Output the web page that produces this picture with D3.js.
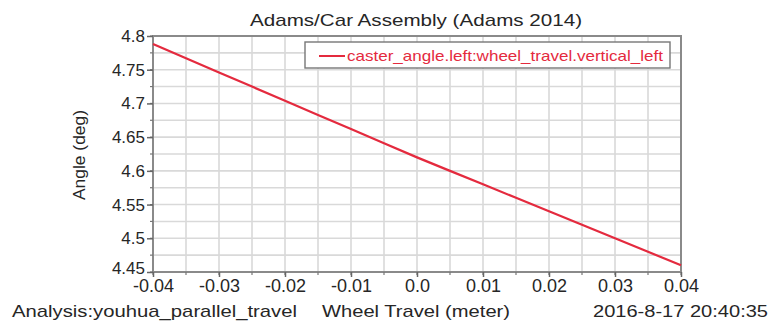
<!DOCTYPE html>
<html lang="en">
  <head>
    <meta charset="UTF-8" />
    <title>Adams/Car Assembly</title>
    <style>
      * {
        margin: 0;
        padding: 0;
      }
      body {
        background-color: #fff;
      }
      text {
        font-family: "Liberation Sans", Arial, sans-serif;
        fill: #262626;
      }
    </style>
  </head>
  <body>
    <script src="https://cdn.jsdelivr.net/npm/d3@7/dist/d3.min.js"></script>
    <script>
      // 数据
      const wheel_travel = [-0.04, -0.035, -0.03, -0.025, -0.02, -0.015, -0.01, -0.005, 0.0, 0.005, 0.01, 0.015, 0.02, 0.025, 0.03, 0.035, 0.04];
      const caster_angle = [4.788, 4.767, 4.746, 4.725, 4.704, 4.683, 4.662, 4.641, 4.62, 4.6, 4.58, 4.56, 4.54, 4.52, 4.5, 4.48, 4.46];
      const x_ticks = [-0.04, -0.03, -0.02, -0.01, 0.0, 0.01, 0.02, 0.03, 0.04];
      const x_tick_labels = ["-0.04", "-0.03", "-0.02", "-0.01", "0.0", "0.01", "0.02", "0.03", "0.04"];
      const y_ticks = [4.45, 4.5, 4.55, 4.6, 4.65, 4.7, 4.75, 4.8];
      const y_tick_labels = ["4.45", "4.5", "4.55", "4.6", "4.65", "4.7", "4.75", "4.8"];

      const plot = { left: 153, right: 681, top: 36, bottom: 272 };
      const red = "#e42a3e";
      const svg = d3.select("body").append("svg").attr("width", 771).attr("height", 325);

      const x = d3.scaleLinear().domain([-0.04, 0.04]).range([plot.left, plot.right]);
      const y = d3.scaleLinear().domain([4.45, 4.8]).range([plot.bottom, plot.top]);

      // 网格
      const x_grid = d3.range(0, 17).map((i) => -0.04 + i * 0.005);
      const y_grid = d3.range(0, 15).map((i) => 4.45 + i * 0.025);
      svg
        .selectAll("line.vgrid")
        .data(x_grid)
        .enter()
        .append("line")
        .attr("x1", (d) => x(d))
        .attr("x2", (d) => x(d))
        .attr("y1", plot.top)
        .attr("y2", plot.bottom)
        .attr("stroke", "#d9d9d9")
        .attr("stroke-width", 1.6);
      svg
        .selectAll("line.hgrid")
        .data(y_grid)
        .enter()
        .append("line")
        .attr("x1", plot.left)
        .attr("x2", plot.right)
        .attr("y1", (d) => y(d))
        .attr("y2", (d) => y(d))
        .attr("stroke", "#d9d9d9")
        .attr("stroke-width", 1.6);

      // 边框
      svg
        .append("rect")
        .attr("x", plot.left)
        .attr("y", plot.top)
        .attr("width", plot.right - plot.left)
        .attr("height", plot.bottom - plot.top)
        .attr("fill", "none")
        .attr("stroke", "#8a8a8a")
        .attr("stroke-width", 2);

      // 小刻度
      svg
        .selectAll("line.ytick_minor")
        .data(y_grid)
        .enter()
        .append("line")
        .attr("x1", plot.left - 3)
        .attr("x2", plot.left)
        .attr("y1", (d) => y(d))
        .attr("y2", (d) => y(d))
        .attr("stroke", "#777")
        .attr("stroke-width", 1.2);
      svg
        .selectAll("line.xtick_minor")
        .data(x_grid)
        .enter()
        .append("line")
        .attr("x1", (d) => x(d))
        .attr("x2", (d) => x(d))
        .attr("y1", plot.bottom)
        .attr("y2", plot.bottom + 3)
        .attr("stroke", "#777")
        .attr("stroke-width", 1.2);

      // 坐标轴
      const y_axis = d3
        .axisLeft(y)
        .tickValues(y_ticks)
        .tickFormat((d, i) => y_tick_labels[i])
        .tickSize(6)
        .tickPadding(2);
      const gy = svg.append("g").attr("transform", `translate(${plot.left},0)`).call(y_axis);
      const x_axis = d3
        .axisBottom(x)
        .tickValues(x_ticks)
        .tickFormat((d, i) => x_tick_labels[i])
        .tickSize(5)
        .tickPadding(2);
      const gx = svg.append("g").attr("transform", `translate(0,${plot.bottom})`).call(x_axis);
      [gx, gy].forEach((g) => {
        g.select(".domain").remove();
        g.selectAll(".tick line").attr("stroke", "#666").attr("stroke-width", 1.5);
        g.selectAll(".tick text").attr("fill", "#262626").attr("font-family", "Liberation Sans, Arial, sans-serif");
      });
      gy.selectAll(".tick text").attr("font-size", 17);
      // 4.45 略微上移
      gy.selectAll(".tick text")
        .filter((d) => d === 4.45)
        .attr("dy", "0.1em");
      gx.selectAll(".tick text").attr("font-size", 18);

      // 曲线
      const line = d3
        .line()
        .x((d, i) => x(wheel_travel[i]))
        .y((d) => y(d));
      svg
        .append("path")
        .datum(caster_angle)
        .attr("d", line)
        .attr("fill", "none")
        .attr("stroke", red)
        .attr("stroke-width", 2.2);

      // 图例
      svg
        .append("rect")
        .attr("x", 305)
        .attr("y", 42)
        .attr("width", 365)
        .attr("height", 26)
        .attr("fill", "#fff")
        .attr("stroke", "#777")
        .attr("stroke-width", 1.4);
      svg
        .append("line")
        .attr("x1", 319)
        .attr("x2", 345)
        .attr("y1", 56)
        .attr("y2", 56)
        .attr("stroke", red)
        .attr("stroke-width", 2);
      svg
        .append("text")
        .text("caster_angle.left:wheel_travel.vertical_left")
        .attr("x", 347)
        .attr("y", 61)
        .attr("font-size", 15)
        .attr("textLength", 316)
        .attr("lengthAdjust", "spacingAndGlyphs")
        .style("fill", red);

      // 标题与标签
      svg
        .append("text")
        .text("Adams/Car Assembly (Adams 2014)")
        .attr("x", 250)
        .attr("y", 26)
        .attr("font-size", 17)
        .attr("textLength", 332)
        .attr("lengthAdjust", "spacingAndGlyphs");
      svg
        .append("text")
        .text("Angle (deg)")
        .attr("transform", "translate(85,155) rotate(-90)")
        .attr("x", -45)
        .attr("font-size", 16)
        .attr("textLength", 90)
        .attr("lengthAdjust", "spacingAndGlyphs");
      svg
        .append("text")
        .text("Analysis:youhua_parallel_travel")
        .attr("x", 12)
        .attr("y", 317)
        .attr("font-size", 17)
        .attr("textLength", 285)
        .attr("lengthAdjust", "spacingAndGlyphs");
      svg
        .append("text")
        .text("Wheel Travel (meter)")
        .attr("x", 322)
        .attr("y", 317)
        .attr("font-size", 17)
        .attr("textLength", 188)
        .attr("lengthAdjust", "spacingAndGlyphs");
      svg
        .append("text")
        .text("2016-8-17 20:40:35")
        .attr("x", 593)
        .attr("y", 317)
        .attr("font-size", 17)
        .attr("textLength", 175)
        .attr("lengthAdjust", "spacingAndGlyphs");
    </script>
  </body>
</html>
